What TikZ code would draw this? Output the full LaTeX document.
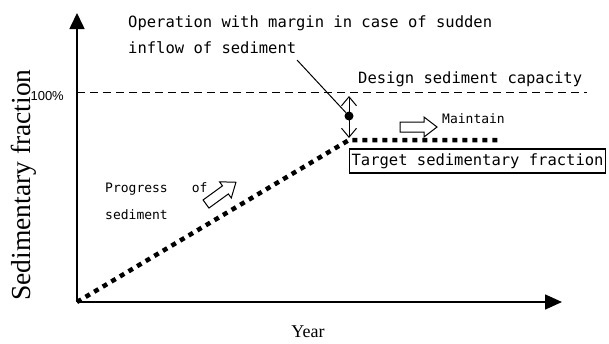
\documentclass[tikz,border=0pt]{standalone}
\usepackage{fontspec}
\setmainfont{Liberation Serif}
\setsansfont{Liberation Sans}
\setmonofont{DejaVu Sans Mono}
\usetikzlibrary{arrows.meta}

\tikzset{
  blockarrow/.pic={\draw[line width=1pt, fill=white] (0,-5) -- (24,-5) -- (24,-10) -- (37,0) -- (24,10) -- (24,5) -- (0,5) -- cycle;}
}

\begin{document}
\begin{tikzpicture}[x=1pt, y=-1pt, every node/.style={inner sep=0pt, font=\ttfamily\fontsize{15.5}{18}\selectfont}]
\useasboundingbox (0,0) rectangle (609,343);

\def\axisline{1.6pt}
\def\levelfull{92}
\def\leveltarget{140}

  % Axes
  \coordinate (origin) at (77,302);
  \coordinate (ytop) at (77,13);
  \coordinate (xend) at (562,302);
  \draw[line width=\axisline, -{Triangle[length=16pt,width=15pt]}] (origin) -- (ytop);
  \draw[line width=\axisline, -{Triangle[length=17pt,width=15pt]}] (origin) -- (xend);

  % Levels
  \coordinate (full_left) at (77,\levelfull);
  \coordinate (full_right) at (587,\levelfull);
  \coordinate (kink) at (349,\leveltarget);
  \coordinate (target_end) at (502,\leveltarget);
  \draw[line width=0.9pt, dash pattern=on 8pt off 5pt] (full_left) -- (full_right);
  \draw[line width=4.5pt, dash pattern=on 5pt off 5pt] (origin) -- (kink) -- (target_end);

  % Margin
  \node (margin) [circle, fill, minimum size=9pt] at (349,116) {};
  \coordinate (margin_top) at (349,96);
  \coordinate (margin_bottom) at (349,138);
  \coordinate (leader) at (297,60);
  \draw[line width=1pt, {Straight Barb[length=9pt,width=15pt]}-{Straight Barb[length=9pt,width=15pt]}] (margin_top) -- (margin_bottom);
  \draw[line width=1pt] (leader) -- (margin);

  % Labels
  \node (ylabel) [rotate=90, font=\rmfamily\fontsize{27.5}{30}\selectfont] at (24,185) {Sedimentary fraction};
  \node (xlabel) [anchor=base, font=\rmfamily\fontsize{18}{20}\selectfont] at (308,337) {Year};
  \node (full) [anchor=base east, font=\sffamily\fontsize{13}{15}\selectfont] at (64,100) {100\%};
  \node (capacity) [anchor=base west] at (358,83) {Design sediment capacity};
  \node (operation) [anchor=base west] at (128,27) {Operation with margin in case of sudden};
  \node (inflow) [anchor=base west] at (128,53) {inflow of sediment};
  \node (target) [draw, line width=1.2pt, anchor=west, inner xsep=2pt, minimum height=24pt] at (349,161) {Target sedimentary fraction};
  \node (maintain) [anchor=base west, font=\ttfamily\fontsize{13}{15}\selectfont] at (442,123) {Maintain};
  \node (progress) [anchor=base west, font=\ttfamily\fontsize{13}{15}\selectfont] at (105,192) {Progress\hspace{24pt}of};
  \node (sediment) [anchor=base west, font=\ttfamily\fontsize{13}{15}\selectfont] at (105,219) {sediment};

  % Block arrows
  \pic at (400,127) {blockarrow};
  \pic[rotate=36] at (206,204) {blockarrow};

\end{tikzpicture}
\end{document}
